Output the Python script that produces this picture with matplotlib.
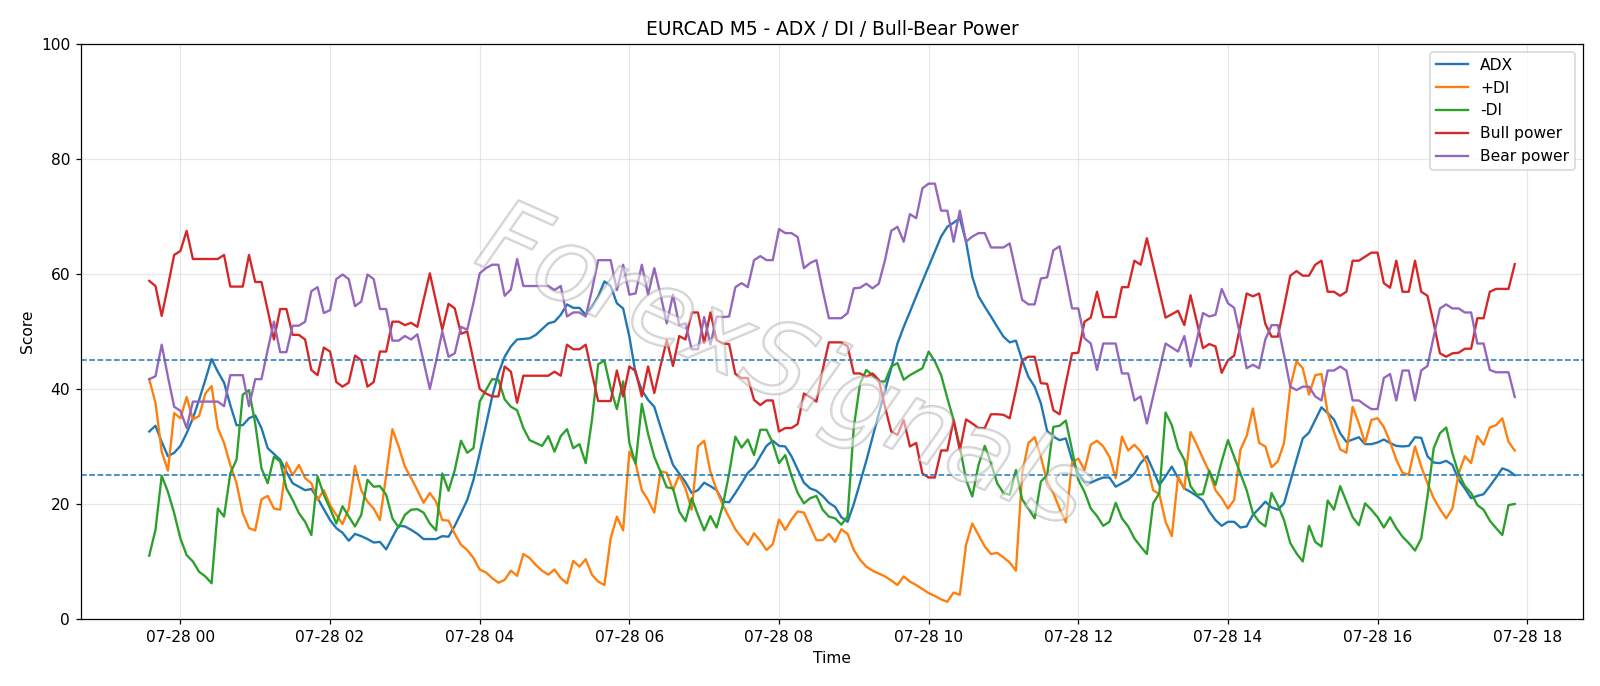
import pandas as pd
import matplotlib
matplotlib.use("Agg")
import matplotlib.pyplot as plt
import matplotlib.dates as mdates
import matplotlib.patheffects as pe

# 5-minute bars, 2025-07-27 23:35 -> 2025-07-28 17:50
start = "2025-07-27 23:35"

adx = [
    32.6, 33.6, 30.8, 28.3, 28.9, 30.1, 32.3, 34.9, 38.1, 41.6,
    45.2, 43.0, 41.1, 37.2, 33.7, 33.7, 34.9, 35.4, 33.2, 29.7,
    28.7, 27.7, 25.6, 23.6, 23.0, 22.4, 22.6, 21.0, 19.1, 17.2,
    15.8, 15.0, 13.6, 14.8, 14.4, 13.9, 13.3, 13.4, 12.1, 14.2,
    16.2, 16.1, 15.5, 14.8, 13.9, 13.9, 13.9, 14.4, 14.3, 16.2,
    18.4, 20.7, 24.2, 28.8, 33.7, 38.7, 42.7, 45.6, 47.4, 48.6,
    48.7, 48.8, 49.4, 50.4, 51.4, 51.7, 52.9, 54.7, 54.1, 54.1,
    52.9, 54.2, 56.1, 58.7, 57.9, 54.9, 54.0, 49.1, 42.7, 39.8,
    38.1, 36.9, 33.4, 30.0, 26.8, 25.3, 23.8, 21.9, 22.4, 23.7,
    23.1, 22.4, 20.4, 20.3, 21.9, 23.6, 25.4, 26.4, 28.3, 30.1,
    31.0, 30.1, 30.0, 28.3, 26.0, 23.7, 22.7, 22.3, 21.4, 20.2,
    19.5, 17.7, 16.9, 20.0, 23.7, 27.5, 31.6, 35.7, 39.7, 43.6,
    47.9, 50.8, 53.4, 56.1, 58.7, 61.3, 63.9, 66.5, 68.2, 68.9,
    69.7, 65.6, 59.5, 56.1, 54.3, 52.6, 50.8, 49.1, 48.1, 48.4,
    45.0, 42.1, 40.4, 37.5, 32.7, 31.7, 31.1, 31.4, 27.7, 25.3,
    23.9, 23.7, 24.2, 24.6, 24.6, 23.0, 23.6, 24.2, 25.3, 27.1,
    28.3, 25.9, 23.3, 24.8, 26.5, 24.5, 22.7, 22.1, 21.4, 20.6,
    18.7, 17.2, 16.2, 16.9, 16.9, 15.9, 16.1, 18.1, 19.2, 20.4,
    19.4, 19.0, 20.1, 23.9, 27.7, 31.4, 32.4, 34.6, 36.8, 35.8,
    34.7, 32.3, 30.8, 31.2, 31.6, 30.4, 30.4, 30.7, 31.2, 30.6,
    30.1, 30.0, 30.1, 31.6, 31.5, 28.3, 27.2, 27.1, 27.5, 26.8,
    24.2, 22.7, 21.0, 21.4, 21.7, 23.1, 24.6, 26.2, 25.8, 25.0,
]

plus_di = [
    41.7, 37.6, 29.1, 25.8, 35.8, 34.9, 38.6, 34.7, 35.3, 39.2,
    40.5, 33.2, 30.6, 26.8, 23.6, 18.4, 15.8, 15.4, 20.8, 21.4,
    19.2, 19.0, 27.2, 25.0, 26.8, 24.5, 23.6, 20.7, 22.4, 19.8,
    18.1, 16.5, 19.2, 26.6, 22.4, 20.4, 19.2, 17.2, 25.0, 33.0,
    30.0, 26.5, 24.5, 22.4, 20.2, 21.9, 20.4, 17.2, 17.1, 14.8,
    12.9, 12.0, 10.6, 8.6, 8.1, 7.1, 6.3, 6.8, 8.4, 7.5,
    11.3, 10.6, 9.4, 8.4, 7.7, 8.6, 7.1, 6.2, 10.1, 9.1,
    10.4, 7.7, 6.5, 5.9, 14.0, 17.8, 15.4, 29.1, 27.1, 22.4,
    20.7, 18.5, 25.7, 25.4, 22.4, 25.0, 22.7, 19.0, 30.0, 31.0,
    25.6, 22.4, 19.8, 17.7, 15.6, 14.2, 12.9, 14.9, 13.6, 12.0,
    13.0, 17.3, 15.5, 17.3, 18.7, 18.5, 16.1, 13.7, 13.7, 14.8,
    13.4, 15.6, 14.8, 12.0, 10.3, 9.1, 8.4, 7.9, 7.4, 6.7,
    5.9, 7.4, 6.5, 5.9, 5.2, 4.5, 4.0, 3.4, 3.0, 4.6,
    4.2, 12.9, 16.6, 14.6, 12.6, 11.3, 11.5, 10.7, 9.8, 8.4,
    25.3, 30.6, 31.6, 28.2, 23.9, 21.9, 19.2, 16.8, 27.2, 27.9,
    25.9, 30.3, 31.0, 30.0, 28.2, 24.5, 31.7, 29.3, 30.3, 29.1,
    27.1, 22.4, 21.7, 16.9, 14.4, 24.8, 22.6, 32.5, 30.3, 27.9,
    25.6, 22.4, 21.0, 19.2, 20.7, 29.4, 31.8, 36.6, 30.6, 30.0,
    26.4, 27.4, 30.6, 40.4, 44.8, 43.6, 39.0, 42.4, 42.6, 35.8,
    32.6, 29.5, 28.9, 36.9, 34.0, 30.6, 34.6, 34.9, 33.4, 30.8,
    27.7, 25.4, 25.1, 30.0, 26.5, 23.6, 21.0, 19.1, 17.5, 19.2,
    25.3, 28.3, 27.1, 31.8, 30.3, 33.3, 33.7, 34.9, 30.8, 29.3,
]

minus_di = [
    11.0, 15.5, 24.9, 22.1, 18.4, 14.0, 11.1, 10.0, 8.2, 7.4,
    6.2, 19.2, 17.8, 25.3, 27.7, 39.0, 39.8, 34.0, 26.2, 23.6,
    28.2, 27.4, 22.7, 20.7, 18.4, 16.9, 14.6, 24.8, 21.6, 19.2,
    16.6, 19.6, 17.8, 16.1, 18.1, 24.2, 23.0, 23.1, 21.6, 17.5,
    15.9, 18.1, 19.0, 19.1, 18.5, 16.6, 15.4, 25.3, 22.3, 25.9,
    31.0, 28.9, 29.7, 37.8, 39.8, 41.7, 41.6, 38.2, 36.9, 36.3,
    33.2, 31.1, 30.6, 30.1, 31.8, 29.1, 31.8, 33.0, 29.7, 30.4,
    27.1, 34.6, 44.3, 44.9, 40.1, 36.5, 41.3, 30.6, 27.0, 37.4,
    32.2, 28.2, 25.6, 22.9, 22.7, 18.7, 17.0, 21.0, 18.1, 15.4,
    17.9, 15.9, 19.8, 25.3, 31.7, 29.8, 31.2, 28.5, 32.9, 32.9,
    30.6, 27.1, 28.5, 24.9, 21.9, 20.1, 21.0, 21.4, 19.0, 17.8,
    17.5, 16.4, 17.8, 33.4, 40.9, 43.3, 42.4, 41.3, 41.3, 43.9,
    44.5, 41.6, 42.4, 43.0, 43.6, 46.5, 44.8, 42.4, 38.4, 34.6,
    30.0, 24.2, 21.3, 26.8, 30.1, 27.1, 23.6, 21.9, 21.6, 25.9,
    20.8, 19.2, 17.5, 23.9, 25.0, 33.4, 33.6, 34.5, 29.4, 24.2,
    22.1, 19.2, 17.9, 16.2, 16.9, 20.2, 17.5, 16.1, 14.0, 12.6,
    11.3, 20.1, 21.9, 35.9, 33.7, 29.7, 27.7, 23.1, 21.6, 21.7,
    25.8, 23.3, 27.4, 31.1, 28.2, 25.3, 22.4, 18.4, 16.9, 16.1,
    21.9, 19.8, 17.2, 13.2, 11.4, 10.0, 16.2, 13.4, 12.6, 20.6,
    19.0, 23.1, 20.4, 17.7, 16.3, 20.1, 19.0, 17.7, 15.9, 17.7,
    15.8, 14.3, 13.2, 11.9, 14.0, 21.3, 29.7, 32.3, 33.3, 28.8,
    25.3, 23.1, 21.9, 19.8, 19.0, 17.1, 15.8, 14.6, 19.8, 20.0,
]

bull = [
    58.8, 57.9, 52.7, 57.9, 63.3, 64.0, 67.5, 62.6, 62.6, 62.6,
    62.6, 62.6, 63.3, 57.8, 57.8, 57.8, 63.3, 58.6, 58.6, 53.7,
    48.6, 53.9, 53.9, 49.4, 49.4, 48.6, 43.3, 42.4, 47.2, 46.5,
    41.2, 40.4, 41.1, 45.8, 45.0, 40.4, 41.2, 46.5, 46.5, 51.7,
    51.7, 51.1, 51.5, 50.8, 55.5, 60.1, 55.2, 50.3, 54.8, 54.0,
    49.6, 50.0, 45.0, 40.0, 39.2, 38.7, 38.7, 43.9, 43.0, 37.6,
    42.3, 42.3, 42.3, 42.3, 42.3, 43.0, 42.3, 47.7, 46.9, 46.9,
    47.7, 42.7, 37.9, 37.9, 37.9, 43.2, 38.7, 43.9, 43.1, 38.7,
    43.9, 39.3, 44.0, 48.5, 44.0, 49.2, 48.6, 53.3, 53.3, 48.0,
    53.3, 48.5, 47.9, 47.8, 42.6, 41.9, 41.9, 38.1, 37.2, 38.0,
    38.0, 32.6, 33.2, 33.2, 33.9, 39.2, 38.6, 37.8, 43.3, 48.1,
    48.1, 48.1, 47.4, 42.7, 42.7, 42.1, 42.7, 41.6, 36.9, 32.6,
    32.0, 34.6, 30.0, 30.6, 25.3, 24.6, 24.6, 29.3, 29.3, 34.6,
    29.3, 34.7, 34.0, 33.2, 33.2, 35.6, 35.6, 35.5, 34.9, 39.8,
    45.0, 45.6, 45.6, 41.0, 40.9, 36.3, 35.6, 41.0, 46.2, 46.3,
    51.7, 52.4, 56.9, 52.5, 52.5, 52.5, 57.7, 57.7, 62.3, 61.6,
    66.2, 61.6, 57.0, 52.4, 53.0, 53.6, 51.1, 56.3, 51.7, 47.1,
    47.8, 47.4, 42.8, 45.0, 45.8, 51.1, 56.6, 56.1, 56.6, 51.3,
    49.1, 49.1, 54.3, 59.7, 60.5, 59.7, 59.7, 61.6, 62.3, 56.9,
    56.9, 56.2, 56.9, 62.3, 62.3, 63.0, 63.7, 63.7, 58.4, 57.6,
    62.3, 56.9, 56.9, 62.3, 56.9, 56.2, 51.4, 46.2, 45.6, 46.2,
    46.3, 47.0, 47.0, 52.3, 52.3, 56.9, 57.4, 57.4, 57.4, 61.7,
]

bear = [
    41.7, 42.2, 47.7, 42.1, 36.9, 36.2, 33.2, 37.8, 37.8, 37.8,
    37.8, 37.8, 37.0, 42.4, 42.4, 42.4, 37.0, 41.7, 41.7, 46.8,
    51.7, 46.4, 46.4, 51.0, 51.0, 51.7, 57.0, 57.7, 53.2, 53.7,
    59.1, 59.9, 59.1, 54.4, 55.2, 59.9, 59.1, 53.9, 53.9, 48.4,
    48.4, 49.2, 48.6, 49.5, 44.8, 40.0, 44.8, 50.0, 45.6, 46.2,
    50.8, 50.3, 55.0, 60.1, 61.0, 61.6, 61.6, 56.2, 57.3, 62.6,
    57.9, 57.9, 57.9, 57.9, 57.9, 57.2, 57.9, 52.6, 53.3, 53.3,
    52.6, 57.2, 62.4, 62.4, 62.4, 57.2, 61.6, 56.4, 56.6, 61.6,
    56.4, 61.0, 56.4, 51.4, 56.4, 51.1, 51.4, 46.9, 46.9, 52.5,
    47.7, 52.6, 52.5, 52.6, 57.7, 58.4, 57.7, 62.4, 63.1, 62.4,
    62.4, 67.8, 67.1, 67.1, 66.4, 61.0, 61.9, 62.4, 57.2, 52.3,
    52.3, 52.3, 53.2, 57.5, 57.6, 58.3, 57.5, 58.3, 62.4, 67.5,
    68.2, 65.6, 70.4, 69.7, 74.9, 75.7, 75.7, 71.0, 71.0, 65.6,
    71.0, 65.6, 66.5, 67.1, 67.1, 64.6, 64.6, 64.6, 65.3, 60.4,
    55.5, 54.7, 54.7, 59.2, 59.4, 64.1, 64.8, 59.5, 54.0, 54.0,
    48.8, 47.9, 43.3, 47.9, 47.9, 47.9, 42.7, 42.7, 38.0, 38.7,
    34.0, 38.7, 43.3, 47.9, 47.2, 46.5, 49.2, 43.9, 48.5, 53.2,
    52.6, 52.9, 57.4, 54.9, 54.1, 49.1, 43.6, 44.2, 43.6, 48.6,
    51.1, 51.1, 45.9, 40.4, 39.8, 40.4, 40.4, 38.7, 38.0, 43.2,
    43.2, 43.9, 43.2, 38.0, 38.0, 37.2, 36.5, 36.5, 41.9, 42.6,
    38.0, 43.2, 43.2, 38.0, 43.2, 44.0, 49.1, 54.0, 54.7, 54.0,
    54.0, 53.3, 53.3, 47.9, 47.9, 43.3, 42.9, 42.9, 42.9, 38.6,
]

times = pd.date_range(start, periods=len(adx), freq="5min")

fig = plt.figure(figsize=(1600 / 112, 686 / 112), dpi=112)
ax = fig.add_subplot(111)
fig.subplots_adjust(left=0.0506, right=0.9894, top=0.936, bottom=0.0977)

ax.plot(times, adx, label="ADX")
ax.plot(times[:len(plus_di)], plus_di, label="+DI")
ax.plot(times[:len(minus_di)], minus_di, label="-DI")
ax.plot(times[:len(bull)], bull, label="Bull power")
ax.plot(times[:len(bear)], bear, label="Bear power")

ax.axhline(25, linestyle="--", linewidth=1)
ax.axhline(45, linestyle="--", linewidth=1)

ax.set_ylim(0, 100)
ax.set_title("EURCAD M5 - ADX / DI / Bull-Bear Power")
ax.set_xlabel("Time")
ax.set_ylabel("Score")
ax.grid(True, alpha=0.3)
ax.xaxis.set_major_locator(mdates.HourLocator(byhour=range(0, 24, 2)))
ax.xaxis.set_major_formatter(mdates.DateFormatter("%m-%d %H"))
ax.legend(loc="upper right")

# watermark: thin grey outline, mostly see-through
ax.text(0.468, 0.435, "ForexSignals", transform=ax.transAxes,
        fontsize=66, rotation=-24, style="italic", ha="center", va="center",
        color=(1, 1, 1, 0.3), zorder=5,
        path_effects=[pe.withStroke(linewidth=1.6, foreground=(0.55, 0.55, 0.55, 0.4))])

fig.savefig("out.png", dpi=112)
